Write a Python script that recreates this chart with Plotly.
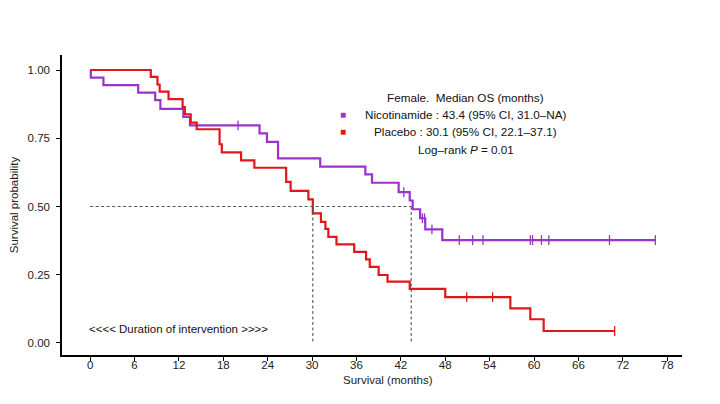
"""Kaplan-Meier overall survival, female subgroup: nicotinamide vs placebo."""

import plotly.graph_objects as go

# Step times (months) and survival after each drop
nico_t = [0, 0.1, 1.8, 6.5, 8.8, 9.5, 12.6, 13.5, 22.9, 23.9, 25.4, 31.1, 37.2, 38.1,
          41.7, 43.2, 43.6, 44.6, 45.3, 47.6, 76.4]
nico_s = [1.0, 0.972, 0.945, 0.917, 0.890, 0.858, 0.828, 0.797, 0.768, 0.737, 0.676,
          0.646, 0.618, 0.587, 0.553, 0.522, 0.490, 0.457, 0.416, 0.377, 0.377]
nico_cens_t = [20.0, 42.4, 44.9, 45.2, 46.2, 49.9, 51.7, 53.1, 59.5, 59.8, 61.0, 62.0, 70.2, 76.4]
nico_cens_s = [0.797, 0.553, 0.457, 0.457, 0.416, 0.377, 0.377, 0.377, 0.377, 0.377,
               0.377, 0.377, 0.377, 0.377]

plac_t = [0, 8.2, 9.1, 9.4, 10.6, 12.5, 12.8, 13.6, 14.4, 17.5, 17.8, 20.4, 22.2, 26.5,
          27.1, 29.5, 30.1, 31.2, 31.8, 32.2, 33.3, 35.7, 37.3, 37.8, 39.0, 40.2, 43.2,
          48.0, 56.8, 59.5, 61.3, 70.9]
plac_s = [1.0, 0.975, 0.947, 0.921, 0.893, 0.864, 0.838, 0.807, 0.783, 0.728, 0.698,
          0.669, 0.642, 0.590, 0.557, 0.526, 0.475, 0.444, 0.418, 0.389, 0.361, 0.334,
          0.306, 0.279, 0.249, 0.225, 0.198, 0.168, 0.127, 0.087, 0.044, 0.044]
plac_cens_t = [50.9, 54.4, 70.9]
plac_cens_s = [0.168, 0.168, 0.044]

median_nico = 43.4
median_plac = 30.1

x_ticks = list(range(0, 79, 6))
y_ticks = [0.0, 0.25, 0.5, 0.75, 1.0]

PURPLE = "#9933CC"
RED = "#E0161B"
FONT = "Liberation Sans, Arial, Helvetica, sans-serif"

fig = go.Figure()

for t, s, ct, cs, color in [
    (nico_t, nico_s, nico_cens_t, nico_cens_s, PURPLE),
    (plac_t, plac_s, plac_cens_t, plac_cens_s, RED),
]:
    fig.add_trace(go.Scatter(x=t, y=s, mode="lines", line=dict(color=color, width=2.2, shape="hv"),
                             showlegend=False, hoverinfo="skip"))
    fig.add_trace(go.Scatter(x=ct, y=cs, mode="markers", showlegend=False, hoverinfo="skip",
                             marker=dict(symbol="line-ns", size=7, line=dict(color=color, width=1.3))))

# Median reference lines
dash = dict(color="#555555", width=1.1, dash="3px,2.5px")
fig.add_trace(go.Scatter(x=[0, median_nico], y=[0.5, 0.5], mode="lines", line=dash,
                         showlegend=False, hoverinfo="skip"))
for m in (median_plac, median_nico):
    fig.add_trace(go.Scatter(x=[m, m], y=[0.5, 0], mode="lines", line=dash,
                             showlegend=False, hoverinfo="skip"))

# Legend block (centered text)
legend_lines = [
    "Female.  Median OS (months)",
    "Nicotinamide : 43.4 (95% CI, 31.0\u2013NA)",
    "Placebo : 30.1 (95% CI, 22.1\u201337.1)",
    "Log\u2013rank <i>P</i> = 0.01",
]
for i, txt in enumerate(legend_lines):
    fig.add_annotation(text=txt, xref="paper", yref="paper", x=0.651, y=0.86 - i * 0.058,
                       showarrow=False, xanchor="center", yanchor="middle",
                       font=dict(size=11.7, color="#111111", family=FONT))
for i, color in enumerate([PURPLE, RED]):
    fig.add_annotation(text="\u25A0", xref="paper", yref="paper", x=0.453, y=0.80 - i * 0.056,
                       showarrow=False, xanchor="center", yanchor="middle",
                       font=dict(size=10, color=color, family=FONT))

fig.add_annotation(text="<<<< Duration of intervention >>>>", x=11.9, y=0.05, showarrow=False,
                   xanchor="center", yanchor="middle", font=dict(size=11.5, color="#111111", family=FONT))

# x-axis title placed by hand (ggplot centres it slightly right of the panel middle)
fig.add_annotation(text="Survival (months)", xref="paper", yref="paper", x=0.526, y=-0.083,
                   showarrow=False, xanchor="center", yanchor="middle",
                   font=dict(size=11.5, color="#222222", family=FONT))

fig.update_layout(
    width=720,
    height=404,
    paper_bgcolor="white",
    plot_bgcolor="white",
    margin=dict(l=54, r=46, t=47, b=57),
    font=dict(family=FONT, size=11.5, color="#222222"),
    showlegend=False,
)
fig.update_xaxes(
    range=[-3.8, 80],
    tickvals=x_ticks,
    ticks="outside",
    ticklen=4,
    tickcolor="black",
    ticklabelstandoff=-6,
    showline=True,
    linecolor="black",
    linewidth=1.5,
    showgrid=False,
    zeroline=False,
    automargin=False,
    tickfont=dict(size=11.5, color="#222222"),
)
fig.update_yaxes(
    range=[-0.044, 1.055],
    tickvals=y_ticks,
    tickformat=".2f",
    ticks="outside",
    ticklen=4,
    tickcolor="black",
    ticklabelstandoff=4,
    showline=True,
    linecolor="black",
    linewidth=1.5,
    showgrid=False,
    zeroline=False,
    automargin=False,
    tickfont=dict(size=11.5, color="#222222"),
    title=dict(text="Survival probability", font=dict(size=11.5, color="#222222")),
)

fig.write_html("out.html")
